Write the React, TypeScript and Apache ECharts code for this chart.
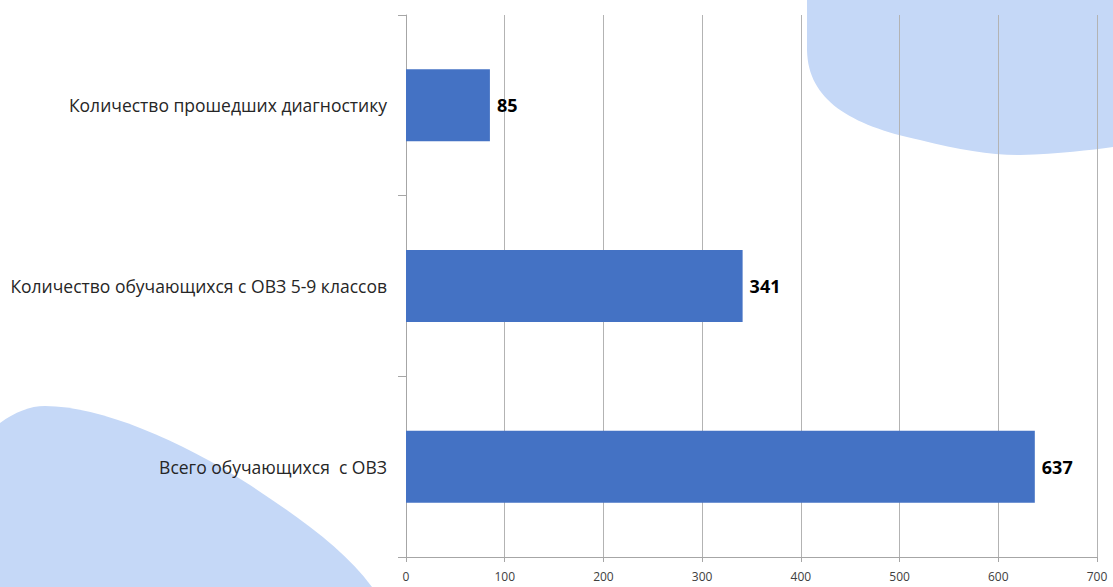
import React, { useEffect, useRef } from "react";
import * as echarts from "echarts";

const categories = [
  "Всего обучающихся  с ОВЗ",
  "Количество обучающихся с ОВЗ 5-9 классов",
  "Количество прошедших диагностику",
];
const values = [637, 341, 85];
const xTicks = { min: 0, max: 700, interval: 100 };

const BLOB_TR =
  "M 807 0 L 807 50 C 808 100 850 125 920 140 C 960 150 990 155 1020 155 C 1060 154 1090 150 1113 147 L 1113 0 Z";
const BLOB_BL =
  "M 0 423 C 15 412 30 406 45 406 C 100 406 180 440 250 485 C 300 518 345 550 372 587 L 0 587 Z";

echarts.graphic.registerShape("blobTR", echarts.graphic.extendPath(BLOB_TR, {}));
echarts.graphic.registerShape("blobBL", echarts.graphic.extendPath(BLOB_BL, {}));

export default function App() {
  const ref = useRef<HTMLDivElement>(null);
  useEffect(() => {
    if (!ref.current) return;
    const chart = echarts.init(ref.current, undefined, { renderer: "svg" });
    const font = "'Open Sans', 'Noto Sans', sans-serif";
    chart.setOption({
      animation: false,
      backgroundColor: "#ffffff",
      graphic: [
        { type: "blobTR", x: 0, y: 0, z: -10, silent: true, style: { fill: "#c5d8f7" } },
        { type: "blobBL", x: 0, y: 0, z: -10, silent: true, style: { fill: "#c5d8f7" } },
      ],
      grid: { left: 406, right: 16, top: 15, bottom: 30, containLabel: false },
      xAxis: {
        type: "value",
        min: xTicks.min,
        max: xTicks.max,
        interval: xTicks.interval,
        axisLine: { show: true, lineStyle: { color: "#a6a6a6", width: 1 } },
        axisTick: { show: true, length: 5, lineStyle: { color: "#a6a6a6" } },
        splitLine: { show: true, lineStyle: { color: "#b3b3b3", width: 1 } },
        axisLabel: { color: "#404040", fontSize: 12, fontFamily: font, margin: 13 },
      },
      yAxis: {
        type: "category",
        data: categories,
        axisLine: { show: true, lineStyle: { color: "#a6a6a6", width: 1 } },
        axisTick: { show: true, length: 8, lineStyle: { color: "#a6a6a6" } },
        axisLabel: { color: "#262626", fontSize: 17.5, fontFamily: font, margin: 19 },
      },
      series: [
        {
          type: "bar",
          data: values,
          barWidth: 72,
          itemStyle: { color: "#4472c4" },
          label: {
            show: true,
            position: "right",
            distance: 7,
            color: "#000000",
            fontWeight: "bold",
            fontSize: 18,
            fontFamily: font,
          },
        },
      ],
    });
    return () => chart.dispose();
  }, []);
  return <div ref={ref} style={{ width: 1113, height: 587, position: "absolute", left: 0, top: 0 }} />;
}
